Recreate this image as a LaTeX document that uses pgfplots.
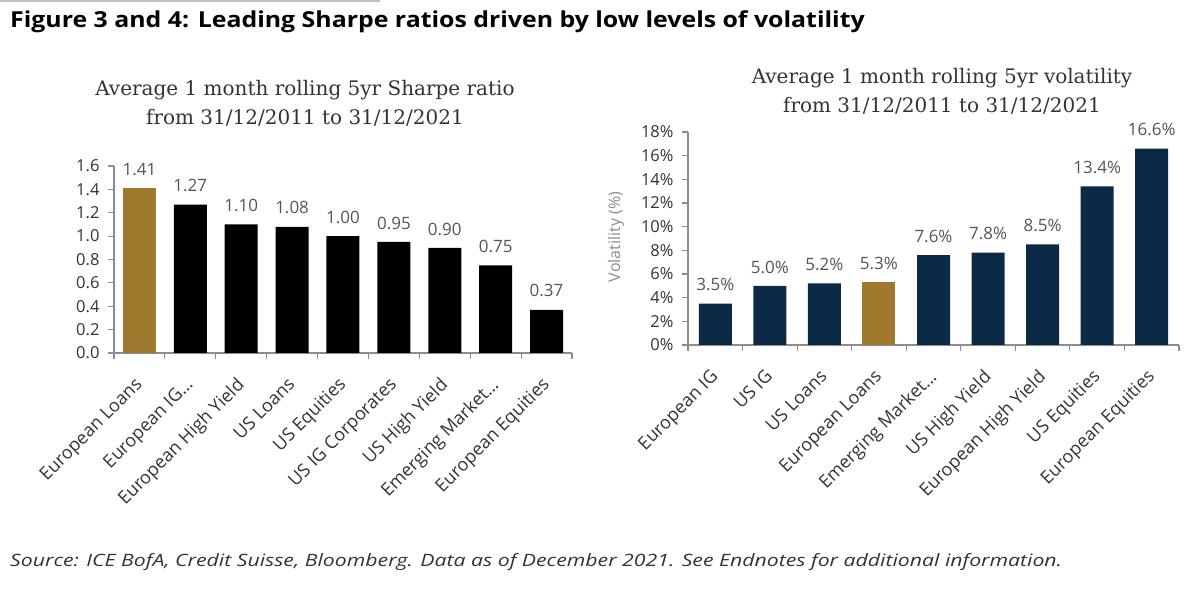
\documentclass[border=0pt]{standalone}
\usepackage{pgfplots}
\pgfplotsset{compat=1.18}
\usepackage{fontspec}
\setmainfont{Open Sans}
\newfontfamily\seriffont{DejaVu Serif}
\definecolor{gold}{HTML}{A0792E}
\definecolor{navy}{HTML}{0B2A45}
\definecolor{axgrey}{HTML}{8C8C8C}
\definecolor{lblgrey}{HTML}{555555}
\definecolor{tickgrey}{HTML}{333333}
\begin{document}
\begin{tikzpicture}[x=1pt,y=1pt]
\path[use as bounding box] (0pt,0pt) rectangle (1200pt,589pt);
\draw[line width=2pt, black!25] (0pt,588pt) -- (380pt,588pt);
\node[anchor=base west, inner sep=0, font=\fontsize{22}{22}\selectfont\bfseries] at (10pt,561pt) {\scalebox{1.13}[1]{Figure 3 and 4: Leading Sharpe ratios driven by low levels of volatility}};
\node[align=center, inner sep=0, font=\fontsize{20}{29}\selectfont\seriffont, text=tickgrey] at (305pt,486pt) {Average 1 month rolling 5yr Sharpe ratio\\from 31/12/2011 to 31/12/2021};
\node[align=center, inner sep=0, font=\fontsize{20}{29}\selectfont\seriffont, text=tickgrey] at (942pt,498pt) {Average 1 month rolling 5yr volatility\\from 31/12/2011 to 31/12/2021};
\node[anchor=base west, inner sep=0, font=\fontsize{17}{17}\selectfont\itshape, text=tickgrey] at (10pt,22pt) {\scalebox{1.25}[1]{Source: ICE BofA, Credit Suisse, Bloomberg. Data as of December 2021. See Endnotes for additional information.}};
\pgfplotsset{
  common/.style={
    scale only axis, anchor=south west,
    xmin=-0.5, xmax=8.5, ymin=0,
    axis lines*=left,
    axis line style={axgrey, line width=1.2pt},
    tick align=outside,
    xtick={0,...,8},
    major x tick style={draw=none},
    minor xtick={-0.5,0.5,...,8.5},
    minor tick length=6pt,
    minor x tick style={axgrey, line width=1.2pt},
    major y tick style={axgrey, line width=1.2pt},
    major tick length=6pt,
    ticklabel style={font=\fontsize{16.5}{16.5}\selectfont, text=tickgrey},
    /pgf/number format/assume math mode=true,
    x tick label style={rotate=45, anchor=north east, font=\fontsize{18}{18}\selectfont, inner sep=1pt, xshift=-8pt},
    xticklabel shift=10pt,
    yticklabel style={xshift=-5pt},
    nodes near coords style={font=\fontsize{17}{17}\selectfont, text=lblgrey},
    every node near coord/.append style={yshift=9pt},
    ybar, bar shift=0pt,
  }
}
\begin{axis}[common, at={(114pt,236pt)}, width=458pt, height=187pt,
  ymax=1.6, ytick={0,0.2,...,1.6},
  yticklabel style={/pgf/number format/.cd, fixed, fixed zerofill, precision=1},
  bar width=33pt,
  nodes near coords={\pgfmathprintnumber[fixed,fixed zerofill,precision=2]{\pgfplotspointmeta}},
  xticklabels={European Loans, {European IG…}, European High Yield, US Loans, US Equities, US IG Corporates, US High Yield, {Emerging Market…}, European Equities},
  ]
\addplot[fill=gold, draw=none] coordinates {(0,1.41)};
\addplot[fill=black, draw=none] coordinates {(1,1.27) (2,1.10) (3,1.08) (4,1.00) (5,0.95) (6,0.90) (7,0.75) (8,0.37)};
\end{axis}
\begin{axis}[common, at={(688pt,244pt)}, width=491pt, height=213pt,
  ymax=18, ytick={0,2,...,18},
  yticklabel={\pgfmathprintnumber{\tick}\%},
  bar width=33pt,
  nodes near coords={\pgfmathprintnumber[fixed,fixed zerofill,precision=1]{\pgfplotspointmeta}\%},
  xticklabels={European IG, US IG, US Loans, European Loans, {Emerging Market…}, US High Yield, European High Yield, US Equities, European Equities},
  ]
\addplot[fill=navy, draw=none] coordinates {(0,3.5) (1,5.0) (2,5.2) (4,7.6) (5,7.8) (6,8.5) (7,13.4) (8,16.6)};
\addplot[fill=gold, draw=none] coordinates {(3,5.3)};
\end{axis}
\node[rotate=90, font=\fontsize{16}{16}\selectfont, text=axgrey] at (616pt,352pt) {Volatility (\%)};
\end{tikzpicture}
\end{document}
